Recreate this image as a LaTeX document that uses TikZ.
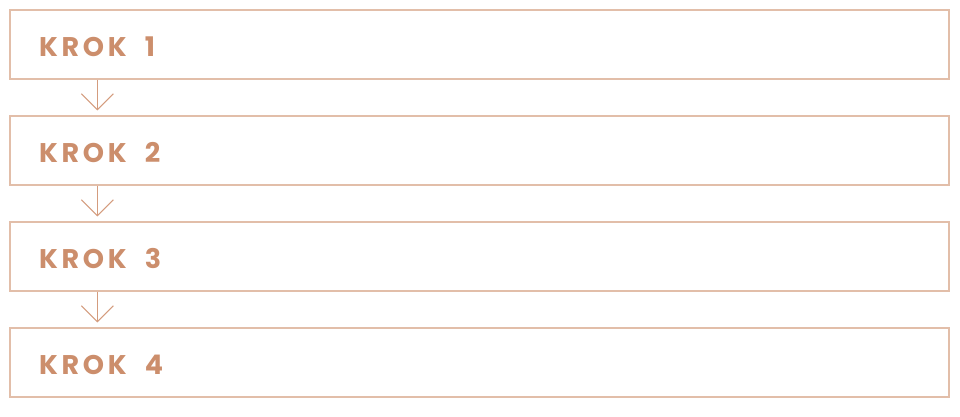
\documentclass[tikz,border=0pt]{standalone}
\usepackage{fontspec}
\setmainfont{Poppins}[LetterSpace=14]
\usetikzlibrary{arrows.meta}

\definecolor{krokText}{HTML}{CC8E6C}
\definecolor{krokLine}{HTML}{E2BEA9}
\definecolor{krokArrow}{HTML}{D49C7E}

\begin{document}
\begin{tikzpicture}[x=1pt,y=-1pt,
    krokbox/.style={draw=krokLine, line width=1.2pt, minimum width=939pt,
        minimum height=69pt, text width=881pt, inner xsep=29pt, align=left,
        text height=23pt, text depth=0pt,
        text=krokText, font=\fontsize{27}{27}\bfseries},
    krokarrow/.style={draw=krokArrow, line width=1pt,
        -{Straight Barb[length=16pt,width=32pt,line width=1pt]}, shorten >=5pt}]
        \useasboundingbox (0,0) rectangle (960,416);
        \foreach \i in {1,2,3,4} {
            \node[krokbox] (krok\i) at (479.5,{44.5+106*(\i-1)}) {KROK\hspace{9pt} \i};
        }
        \foreach \i/\j in {1/2,2/3,3/4} {
            \coordinate (top\j) at ([xshift=88pt]krok\j.north west);
            \draw[krokarrow] (krok\i.south -| top\j) -- (top\j);
        }
    \end{tikzpicture}
\end{document}
